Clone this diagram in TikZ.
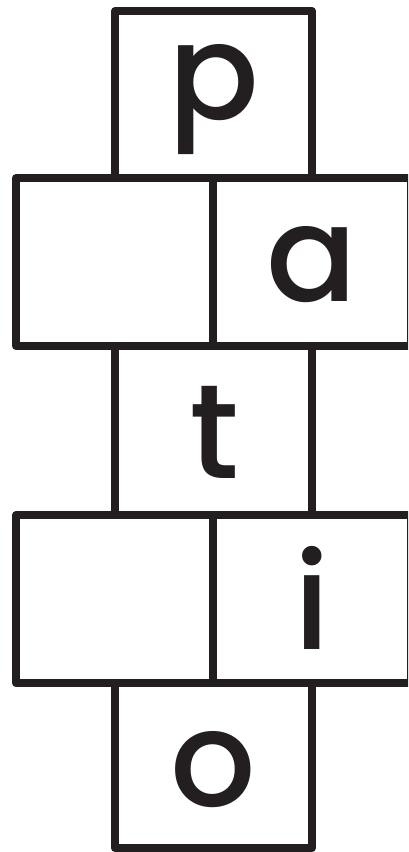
\documentclass[tikz,border=0pt]{standalone}
\usepackage{fontspec}
\setmainfont{Poppins}[UprightFont=* Medium]
\definecolor{ink}{HTML}{231F20}
\begin{document}
\begin{tikzpicture}[x=1pt,y=-1pt,
  cell/.style={draw=ink,line width=8pt,line join=round},
  letter/.style={text=ink,inner sep=0pt,anchor=base,font=\fontsize{134}{134}\selectfont}]
\useasboundingbox (0,0) rectangle (408,852);
\begin{scope}
\clip (0,0) rectangle (408,852);
\draw[cell] (115,11) rectangle (312,178);
\draw[cell] (16,178) rectangle (411,346);
\draw[cell] (213,178) -- (213,346);
\draw[cell] (115,346) rectangle (312,515);
\draw[cell] (16,515) rectangle (411,683);
\draw[cell] (213,515) -- (213,683);
\draw[cell] (115,683) rectangle (312,848);
\end{scope}
\node[letter] (p) at (214,119) {p};
\node[letter] (a) at (312,301) {a};
\node[letter] (t) at (214,478) {t};
\node[letter] (i) at (312,649) {i};
\node[letter] (o) at (213,806) {o};
\end{tikzpicture}
\end{document}
